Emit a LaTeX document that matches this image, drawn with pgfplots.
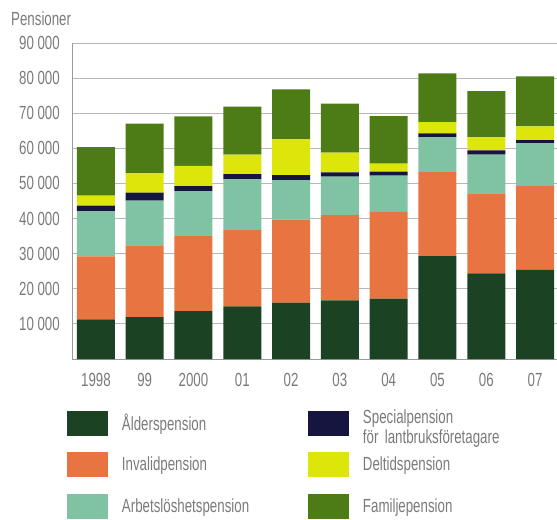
\documentclass[border=0pt]{standalone}
\usepackage{pgfplots}
\pgfplotsset{compat=1.18}
\usepackage{pgfplotstable}
\usepackage{fontspec}
\setmainfont{Liberation Sans}[FakeStretch=0.7]
\definecolor{alder}{HTML}{1B4323}
\definecolor{invalid}{HTML}{E87541}
\definecolor{arbets}{HTML}{80C3A2}
\definecolor{special}{HTML}{15153F}
\definecolor{deltid}{HTML}{DDE60A}
\definecolor{familj}{HTML}{4D7B16}
\definecolor{txtgray}{HTML}{7A7A7A}
\definecolor{gridgray}{HTML}{B8B8B8}
\definecolor{axisgray}{HTML}{9A9A9A}
\pgfplotstableread{
x A I Ar S D F
0 11300 17950 12810 1600 2840 13880
1 11960 20420 12700 2280 5610 14040
2 13670 21360 12730 1510 5700 14150
3 15000 21740 14440 1510 5500 13670
4 16040 23640 11300 1420 10170 14230
5 16700 24310 10910 1250 5580 13970
6 17180 24690 10330 1140 2280 13580
7 29330 23930 9880 1140 3220 13870
8 24410 22780 11000 1230 3720 13190
9 25350 23920 12160 940 3900 14240
}\data
\begin{document}
\begin{tikzpicture}
\path[use as bounding box] (-72bp,-161bp) rectangle (485bp,359bp);
\begin{axis}[
  at={(0,0)}, anchor=south west,
  scale only axis, width=485bp, height=316bp,
  ymin=0, ymax=90000, xmin=-0.49, xmax=9.45,
  ybar stacked, bar width=38bp,
  axis lines*=left,
  axis line style={axisgray, line width=0.8bp},
  scaled y ticks=false,
  ytick={10000,20000,30000,40000,50000,60000,70000,80000,90000},
  yticklabels={10 000,20 000,30 000,40 000,50 000,60 000,70 000,80 000,90 000},
  xtick={0,...,9},
  xticklabels={1998,99,2000,01,02,03,04,05,06,07},
  major tick length=0pt, tick style={draw=none},
  ymajorgrids, grid style={gridgray, line width=0.8bp},
  tick label style={font=\fontsize{19bp}{20bp}\selectfont, text=txtgray, inner sep=0pt},
  yticklabel shift=12bp, xticklabel shift=14bp,
  ylabel={Pensioner},
  every axis y label/.style={at={(axis description cs:0,1)}, anchor=base west, xshift=-61bp, yshift=18bp, inner sep=0pt, font=\fontsize{19bp}{20bp}\selectfont, text=txtgray},
  legend columns=3, transpose legend,
  legend cell align=left,
  legend image code/.code={\fill[#1] (0bp,-12.5bp) rectangle (41bp,12.5bp);},
  legend style={at={(axis description cs:0,0)}, anchor=north west, xshift=-5bp, yshift=-44bp, draw=none, fill=none, inner sep=0pt, outer sep=0pt, /tikz/column sep=14bp, /tikz/row sep=1.5bp,
    nodes={anchor=west, inner sep=0pt, text width=172bp, align=left, minimum height=40bp, font=\fontsize{19bp}{20bp}\selectfont, text=txtgray}},
]
\addplot[fill=alder, draw=none] table[x=x, y=A]{\data};
\addlegendentry{Ålderspension}
\addplot[fill=invalid, draw=none] table[x=x, y=I]{\data};
\addlegendentry{Invalidpension}
\addplot[fill=arbets, draw=none] table[x=x, y=Ar]{\data};
\addlegendentry{Arbetslöshetspension}
\addplot[fill=special, draw=none] table[x=x, y=S]{\data};
\addlegendentry{\begin{tabular}[c]{@{}l@{}}Specialpension\\för lantbruksföretagare\end{tabular}}
\addplot[fill=deltid, draw=none] table[x=x, y=D]{\data};
\addlegendentry{Deltidspension}
\addplot[fill=familj, draw=none] table[x=x, y=F]{\data};
\addlegendentry{Familjepension}
\end{axis}
\end{tikzpicture}
\end{document}
